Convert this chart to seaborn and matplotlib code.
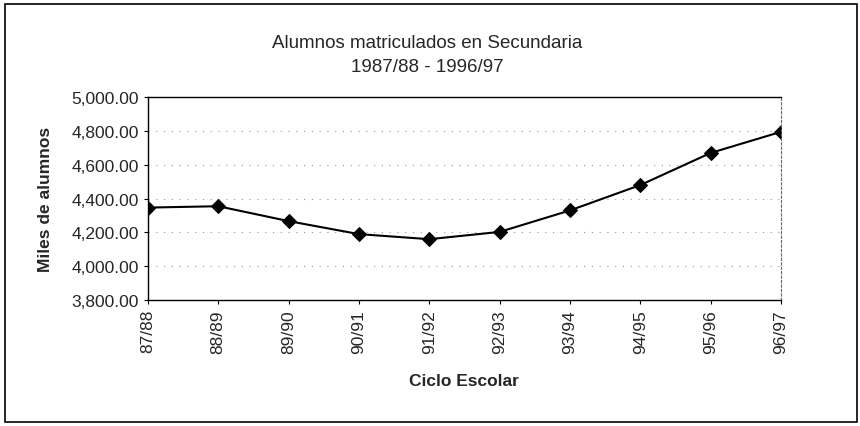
import matplotlib
matplotlib.use("Agg")
import matplotlib.pyplot as plt
import matplotlib.ticker as mticker
from matplotlib.patches import Rectangle
import seaborn as sns
import pandas as pd

ciclos = ["87/88", "88/89", "89/90", "90/91", "91/92",
          "92/93", "93/94", "94/95", "95/96", "96/97"]
alumnos = [4347, 4355, 4267, 4190, 4160, 4203, 4330, 4480, 4670, 4795]
yticks = [3800, 4000, 4200, 4400, 4600, 4800, 5000]

sns.set_style("white")
plt.rcParams["font.family"] = ["Liberation Sans", "DejaVu Sans"]

df = pd.DataFrame({"ciclo": ciclos, "alumnos": alumnos})

fig = plt.figure(figsize=(8.6, 4.27), dpi=100)
ax = fig.add_axes([0.172, 0.295, 0.736, 0.475])

sns.lineplot(data=df, x="ciclo", y="alumnos", ax=ax, sort=False,
             color="black", linewidth=1.5, marker="D", markersize=7,
             markeredgecolor="black", markerfacecolor="black")

ax.set_xlim(0, len(ciclos) - 1)
ax.set_ylim(yticks[0], yticks[-1])
ax.set_yticks(yticks)
ax.yaxis.set_major_formatter(mticker.FuncFormatter(lambda v, _: f"{v:,.2f}"))
ax.set_xticks(range(len(ciclos)))
ax.set_xticklabels(ciclos, rotation=90)

# excel-style faint dotted gridlines
ax.grid(axis="y", color="#999999", linestyle=(0, (1, 6)), linewidth=0.8)
ax.grid(axis="x", visible=False)
for s in ["left", "bottom", "top"]:
    ax.spines[s].set_color("black")
    ax.spines[s].set_linewidth(1.0)
ax.spines["right"].set_color("#666666")
ax.spines["right"].set_linestyle((0, (2, 2)))
ax.tick_params(axis="both", which="major", length=3, direction="out",
               color="black", labelsize=12.5, left=True, bottom=True)

ax.set_xlabel("Ciclo Escolar", fontsize=12.5, fontweight="bold")
ax.set_ylabel("Miles de alumnos", fontsize=12.5, fontweight="bold")
ax.xaxis.set_label_coords(0.5, -0.362)
ax.yaxis.set_label_coords(-0.15, 0.5)

fig.text(0.497, 0.897, "Alumnos matriculados en Secundaria", ha="center",
         va="center", fontsize=13.5)
fig.text(0.497, 0.841, "1987/88 - 1996/97", ha="center", va="center",
         fontsize=13.5)

# outer chart frame
fig.patches.append(Rectangle((0.006, 0.01), 0.99, 0.978,
                             transform=fig.transFigure, fill=False,
                             edgecolor="black", linewidth=1.2))

fig.savefig("out.png", dpi=100)
